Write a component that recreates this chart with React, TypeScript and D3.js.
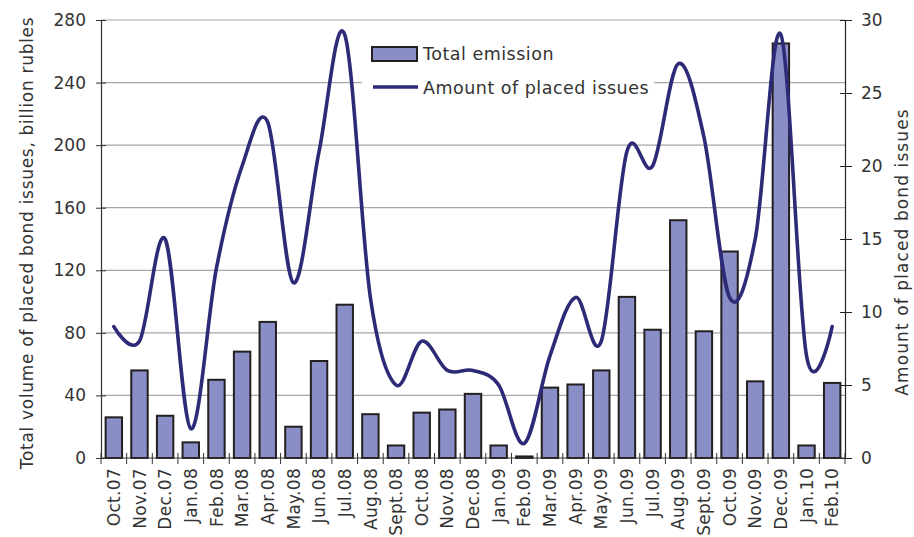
import { useRef, useEffect } from 'react';
import * as d3 from 'd3';

const months = [
  'Oct.07', 'Nov.07', 'Dec.07', 'Jan.08', 'Feb.08', 'Mar.08', 'Apr.08', 'May.08',
  'Jun.08', 'Jul.08', 'Aug.08', 'Sept.08', 'Oct.08', 'Nov.08', 'Dec.08', 'Jan.09',
  'Feb.09', 'Mar.09', 'Apr.09', 'May.09', 'Jun.09', 'Jul.09', 'Aug.09', 'Sept.09',
  'Oct.09', 'Nov.09', 'Dec.09', 'Jan.10', 'Feb.10',
];

// billion rubles (left axis)
const totalEmission = [
  26, 56, 27, 10, 50, 68, 87, 20, 62, 98, 28, 8, 29, 31, 41, 8,
  1, 45, 47, 56, 103, 82, 152, 81, 132, 49, 265, 8, 48,
];

// number of issues (right axis)
const placedIssues = [
  9, 8, 15, 2, 13, 20, 23, 12, 21, 29, 11, 5, 8, 6, 6, 5,
  1, 7, 11, 8, 21, 20, 27, 22, 11, 15, 29, 7, 9,
];

const leftTicks = [0, 40, 80, 120, 160, 200, 240, 280];
const rightTicks = [0, 5, 10, 15, 20, 25, 30];

const W = 914;
const H = 537;
const MARGIN = { TOP: 20, RIGHT: 69, BOTTOM: 79, LEFT: 101 };
const FONT = '"DejaVu Sans", sans-serif';
const TEXT = '#333';

const App = () => {
  const svgRef = useRef<SVGSVGElement>(null);

  useEffect(() => {
    const svg = d3.select(svgRef.current);
    svg.selectAll('*').remove();

    const WIDTH = W - MARGIN.LEFT - MARGIN.RIGHT;
    const HEIGHT = H - MARGIN.TOP - MARGIN.BOTTOM;

    const g = svg.append('g')
      .attr('transform', `translate(${MARGIN.LEFT}, ${MARGIN.TOP})`);

    const x = d3.scaleBand().domain(months).range([0, WIDTH]).paddingInner(0.36).paddingOuter(0.18);
    const xStep = d3.scaleBand().domain(months).range([0, WIDTH]);
    const yLeft = d3.scaleLinear().domain([0, 280]).range([HEIGHT, 0]);
    const yRight = d3.scaleLinear().domain([0, 30]).range([HEIGHT, 0]);

    // gridlines
    g.append('g')
      .selectAll('line')
      .data(leftTicks.filter(t => t > 0))
      .join('line')
      .attr('x1', 0)
      .attr('x2', WIDTH)
      .attr('y1', d => yLeft(d))
      .attr('y2', d => yLeft(d))
      .attr('stroke', '#a6a6a6')
      .attr('stroke-width', 1.2);

    // bars
    g.append('g')
      .selectAll('rect')
      .data(totalEmission)
      .join('rect')
      .attr('x', (d, i) => x(months[i])!)
      .attr('y', d => yLeft(d))
      .attr('width', x.bandwidth())
      .attr('height', d => HEIGHT - yLeft(d))
      .attr('fill', '#8a8ec6')
      .attr('stroke', '#231f20')
      .attr('stroke-width', 2);

    // smoothed line
    const line = d3.line<number>()
      .x((d, i) => xStep(months[i])! + xStep.bandwidth() / 2)
      .y(d => yRight(d))
      .curve(d3.curveCardinal.tension(0));

    g.append('path')
      .attr('d', line(placedIssues))
      .attr('fill', 'none')
      .attr('stroke', '#2d2a77')
      .attr('stroke-width', 3.6)
      .attr('stroke-linecap', 'round');

    // left axis
    const leftAxis = g.append('g')
      .call(d3.axisLeft(yLeft).tickValues(leftTicks).tickSizeInner(5).tickSizeOuter(0).tickPadding(10));
    leftAxis.select('.domain').attr('stroke', '#333').attr('stroke-width', 1.2);
    leftAxis.selectAll('.tick line').attr('x2', 5).attr('x1', -5).attr('stroke', '#333');
    leftAxis.selectAll('.tick text')
      .attr('font-family', FONT).attr('font-size', 17).attr('fill', TEXT);

    // right axis
    const rightAxis = g.append('g')
      .attr('transform', `translate(${WIDTH}, 0)`)
      .call(d3.axisRight(yRight).tickValues(rightTicks).tickSizeInner(7).tickSizeOuter(0).tickPadding(9));
    rightAxis.select('.domain').attr('stroke', '#222').attr('stroke-width', 1.2);
    rightAxis.selectAll('.tick line').attr('x1', -5).attr('stroke', '#222');
    rightAxis.selectAll('.tick text')
      .attr('font-family', FONT).attr('font-size', 17).attr('fill', TEXT);

    // x axis
    g.append('line')
      .attr('x1', 0).attr('x2', WIDTH)
      .attr('y1', HEIGHT).attr('y2', HEIGHT)
      .attr('stroke', '#333').attr('stroke-width', 1.2);

    g.append('g')
      .selectAll('line')
      .data(d3.range(months.length + 1))
      .join('line')
      .attr('x1', i => i * xStep.step())
      .attr('x2', i => i * xStep.step())
      .attr('y1', HEIGHT - 5)
      .attr('y2', HEIGHT + 6)
      .attr('stroke', '#333');

    g.append('g')
      .selectAll('text')
      .data(months)
      .join('text')
      .attr('transform', d => `translate(${xStep(d)! + xStep.bandwidth() / 2}, ${HEIGHT + 10}) rotate(-90)`)
      .attr('text-anchor', 'end')
      .attr('dy', '0.36em')
      .attr('font-family', FONT)
      .attr('font-size', 17)
      .attr('letter-spacing', 0.3)
      .attr('fill', TEXT)
      .text(d => d);

    // axis titles
    svg.append('text')
      .attr('transform', `translate(27, ${MARGIN.TOP + HEIGHT / 2 + 4}) rotate(-90)`)
      .attr('text-anchor', 'middle')
      .attr('dy', '0.36em')
      .attr('font-family', FONT)
      .attr('font-size', 17)
      .attr('letter-spacing', 0.7)
      .attr('fill', TEXT)
      .text('Total volume of placed bond issues, billion rubles');

    svg.append('text')
      .attr('transform', `translate(902, 252) rotate(-90)`)
      .attr('text-anchor', 'middle')
      .attr('dy', '0.36em')
      .attr('font-family', FONT)
      .attr('font-size', 17)
      .attr('letter-spacing', 1.1)
      .attr('fill', TEXT)
      .text('Amount of placed bond issues');

    // legend
    const legend = svg.append('g').attr('transform', 'translate(362, 40)');
    legend.append('rect')
      .attr('width', 292).attr('height', 64)
      .attr('fill', '#fff');
    legend.append('rect')
      .attr('x', 10).attr('y', 7)
      .attr('width', 45).attr('height', 14)
      .attr('fill', '#8a8ec6')
      .attr('stroke', '#231f20')
      .attr('stroke-width', 2);
    legend.append('text')
      .attr('x', 61).attr('y', 14)
      .attr('dy', '0.36em')
      .attr('font-family', FONT)
      .attr('font-size', 17.5)
      .attr('letter-spacing', 0.5)
      .attr('fill', TEXT)
      .text('Total emission');
    legend.append('line')
      .attr('x1', 11).attr('x2', 56)
      .attr('y1', 47).attr('y2', 47)
      .attr('stroke', '#2d2a77')
      .attr('stroke-width', 3.6);
    legend.append('text')
      .attr('x', 61).attr('y', 48)
      .attr('dy', '0.36em')
      .attr('font-family', FONT)
      .attr('font-size', 17.5)
      .attr('letter-spacing', 0.5)
      .attr('fill', TEXT)
      .text('Amount of placed issues');
  }, []);

  return (
    <div style={{ position: 'absolute', left: 0, top: 0, width: W, height: H, background: '#fff' }}>
      <svg ref={svgRef} width={W} height={H} style={{ display: 'block' }} />
    </div>
  );
};

export default App;
